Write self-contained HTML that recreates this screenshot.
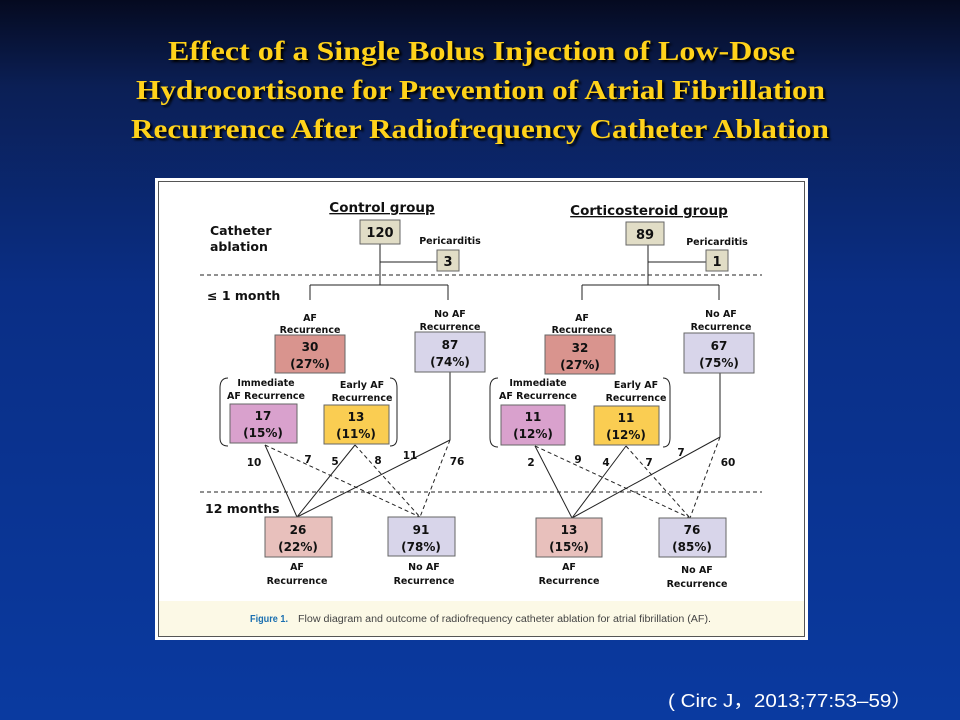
<!DOCTYPE html>
<html><head><meta charset="utf-8"><style>
html,body{margin:0;padding:0;width:960px;height:720px;overflow:hidden}
</style></head><body>
<svg width="960" height="720" viewBox="0 0 960 720" xmlns="http://www.w3.org/2000/svg">
<defs>
<linearGradient id="bg" x1="0" y1="0" x2="0" y2="1">
<stop offset="0" stop-color="#050a20"/>
<stop offset="0.12" stop-color="#0b1f55"/>
<stop offset="0.4" stop-color="#0a2e85"/>
<stop offset="1" stop-color="#0a3aa0"/>
</linearGradient>
</defs>
<rect width="960" height="720" fill="url(#bg)"/>
<g font-family="Liberation Serif, serif" font-weight="bold" font-size="27" fill="#ffd21a" style="text-shadow:2px 2px 2px #000">
<text x="168" y="60" textLength="627" lengthAdjust="spacingAndGlyphs">Effect of a Single Bolus Injection of Low-Dose</text>
<text x="136" y="99" textLength="689" lengthAdjust="spacingAndGlyphs">Hydrocortisone for Prevention of Atrial Fibrillation</text>
<text x="131" y="138" textLength="698" lengthAdjust="spacingAndGlyphs">Recurrence After Radiofrequency Catheter Ablation</text>
</g>
<text x="668" y="707" font-family="Liberation Sans, sans-serif" font-size="18" fill="#fff" textLength="244" lengthAdjust="spacingAndGlyphs">( Circ J，2013;77:53–59）</text>

<rect x="155" y="178" width="653" height="462" fill="#fff"/>
<rect x="158" y="601" width="646" height="35" fill="#fcf9e6"/>
<rect x="158.5" y="181.5" width="646" height="455" fill="none" stroke="#555" stroke-width="1"/>
<text x="250" y="622" font-family="Liberation Sans, sans-serif" font-size="10" font-weight="bold" fill="#1a6fb0" textLength="38" lengthAdjust="spacingAndGlyphs">Figure 1.</text>
<text x="298" y="622" font-family="Liberation Sans, sans-serif" font-size="10" fill="#444" textLength="413" lengthAdjust="spacingAndGlyphs">Flow diagram and outcome of radiofrequency catheter ablation for atrial fibrillation (AF).</text>

<g font-family="DejaVu Sans, Liberation Sans, sans-serif" fill="#111">
<g stroke="#222" stroke-width="1" fill="none">
<line x1="200" y1="275" x2="762" y2="275" stroke-dasharray="4,3"/>
<line x1="200" y1="492" x2="762" y2="492" stroke-dasharray="4,3"/>
<line x1="380" y1="244" x2="380" y2="285"/><line x1="380" y1="262" x2="437" y2="262"/>
<line x1="310" y1="285" x2="448" y2="285"/><line x1="310" y1="285" x2="310" y2="300"/><line x1="448" y1="285" x2="448" y2="300"/>
<line x1="450" y1="372" x2="450" y2="440"/>
<path d="M228 378 Q220 378 220 388 L220 438 Q220 446 228 446"/>
<path d="M390 378 Q397 378 397 388 L397 438 Q397 446 390 446"/>
<line x1="265" y1="445" x2="297" y2="517"/><line x1="355" y1="445" x2="297" y2="517"/><line x1="450" y1="440" x2="297" y2="517"/>
<g stroke-dasharray="4,3"><line x1="265" y1="445" x2="420" y2="517"/><line x1="355" y1="445" x2="420" y2="517"/><line x1="450" y1="440" x2="420" y2="517"/></g>
<line x1="648" y1="245" x2="648" y2="285"/><line x1="648" y1="262" x2="706" y2="262"/>
<line x1="582" y1="285" x2="719" y2="285"/><line x1="582" y1="285" x2="582" y2="300"/><line x1="719" y1="285" x2="719" y2="300"/>
<line x1="720" y1="373" x2="720" y2="437"/>
<path d="M498 378 Q490 378 490 388 L490 438 Q490 447 498 447"/>
<path d="M663 378 Q670 378 670 388 L670 438 Q670 447 663 447"/>
<line x1="535" y1="446" x2="572" y2="518"/><line x1="626" y1="446" x2="572" y2="518"/><line x1="720" y1="437" x2="572" y2="518"/>
<g stroke-dasharray="4,3"><line x1="535" y1="446" x2="690" y2="518"/><line x1="626" y1="446" x2="690" y2="518"/><line x1="720" y1="437" x2="690" y2="518"/></g>
</g>
<g stroke="#666" stroke-width="1">
<rect x="360" y="220" width="40" height="24" fill="#e1ddc6"/>
<rect x="437" y="250" width="22" height="21" fill="#e1ddc6"/>
<rect x="275" y="335" width="70" height="38" fill="#d9948e"/>
<rect x="415" y="332" width="70" height="40" fill="#d8d5ea"/>
<rect x="230" y="404" width="67" height="39" fill="#d9a1cd"/>
<rect x="324" y="405" width="65" height="39" fill="#facd52"/>
<rect x="265" y="517" width="67" height="40" fill="#e8c0bc"/>
<rect x="388" y="517" width="67" height="39" fill="#d8d5ea"/>
<rect x="626" y="222" width="38" height="23" fill="#e1ddc6"/>
<rect x="706" y="250" width="22" height="21" fill="#e1ddc6"/>
<rect x="545" y="335" width="70" height="39" fill="#d9948e"/>
<rect x="684" y="333" width="70" height="40" fill="#d8d5ea"/>
<rect x="501" y="405" width="64" height="40" fill="#d9a1cd"/>
<rect x="594" y="406" width="65" height="39" fill="#facd52"/>
<rect x="536" y="518" width="66" height="39" fill="#e8c0bc"/>
<rect x="659" y="518" width="67" height="39" fill="#d8d5ea"/>
</g>
<g font-size="13.5" font-weight="bold">
<text x="382" y="212" text-anchor="middle" text-decoration="underline">Control group</text>
<text x="649" y="215" text-anchor="middle" text-decoration="underline">Corticosteroid group</text>
</g>
<g font-size="12.5" font-weight="bold">
<text x="210" y="235">Catheter</text><text x="210" y="251">ablation</text>
<text x="207" y="300">≤ 1 month</text>
<text x="205" y="513">12 months</text>
</g>
<g font-size="13" font-weight="bold" text-anchor="middle">
<text x="380" y="237">120</text><text x="448" y="266">3</text>
<text x="645" y="239">89</text><text x="717" y="266">1</text>
</g>
<g font-size="12" text-anchor="middle" font-weight="bold">
<text x="310" y="351">30</text><text x="310" y="368">(27%)</text>
<text x="450" y="349">87</text><text x="450" y="366">(74%)</text>
<text x="263" y="420">17</text><text x="263" y="437">(15%)</text>
<text x="356" y="421">13</text><text x="356" y="438">(11%)</text>
<text x="298" y="534">26</text><text x="298" y="551">(22%)</text>
<text x="421" y="534">91</text><text x="421" y="551">(78%)</text>
<text x="580" y="352">32</text><text x="580" y="369">(27%)</text>
<text x="719" y="350">67</text><text x="719" y="367">(75%)</text>
<text x="533" y="421">11</text><text x="533" y="438">(12%)</text>
<text x="626" y="422">11</text><text x="626" y="439">(12%)</text>
<text x="569" y="534">13</text><text x="569" y="551">(15%)</text>
<text x="692" y="534">76</text><text x="692" y="551">(85%)</text>
</g>
<g font-size="9.5" text-anchor="middle" font-weight="bold">
<text x="450" y="244">Pericarditis</text>
<text x="717" y="245">Pericarditis</text>
<text x="310" y="321">AF</text><text x="310" y="333">Recurrence</text>
<text x="450" y="317">No AF</text><text x="450" y="330">Recurrence</text>
<text x="266" y="386">Immediate</text><text x="266" y="399">AF Recurrence</text>
<text x="362" y="388">Early AF</text><text x="362" y="401">Recurrence</text>
<text x="297" y="570">AF</text><text x="297" y="584">Recurrence</text>
<text x="424" y="570">No AF</text><text x="424" y="584">Recurrence</text>
<text x="582" y="321">AF</text><text x="582" y="333">Recurrence</text>
<text x="721" y="317">No AF</text><text x="721" y="330">Recurrence</text>
<text x="538" y="386">Immediate</text><text x="538" y="399">AF Recurrence</text>
<text x="636" y="388">Early AF</text><text x="636" y="401">Recurrence</text>
<text x="569" y="570">AF</text><text x="569" y="584">Recurrence</text>
<text x="697" y="573">No AF</text><text x="697" y="587">Recurrence</text>
</g>
<g font-size="10.5" font-weight="bold" text-anchor="middle">
<text x="254" y="466">10</text><text x="308" y="463">7</text><text x="335" y="465">5</text><text x="378" y="464">8</text><text x="410" y="459">11</text><text x="457" y="465">76</text>
<text x="531" y="466">2</text><text x="578" y="463">9</text><text x="606" y="466">4</text><text x="649" y="466">7</text><text x="681" y="456">7</text><text x="728" y="466">60</text>
</g>
</g>
</svg>
</body></html>
